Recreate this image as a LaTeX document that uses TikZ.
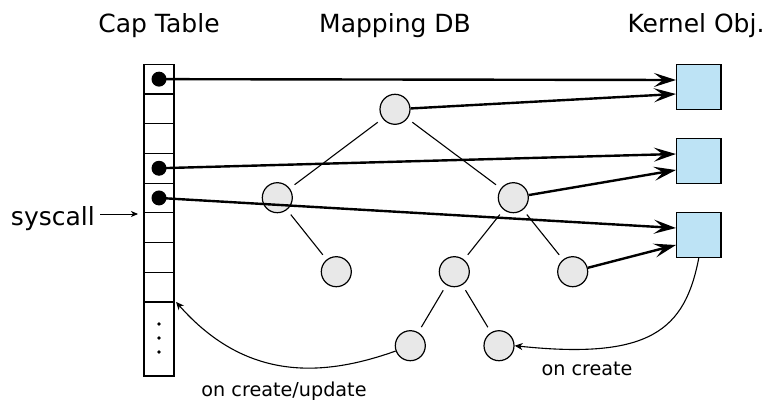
\documentclass[tikz,border=0pt]{standalone}
\usepackage{fontspec}
\setmainfont{DejaVu Sans}
\usetikzlibrary{arrows.meta}
\definecolor{kobj}{HTML}{BDE3F5}
\definecolor{mdb}{HTML}{E8E8E8}
\begin{document}
\begin{tikzpicture}[x=1pt,y=-1pt,
  title/.style={font=\fontsize{25}{30}\selectfont, inner sep=0pt, anchor=base},
  lbl/.style={font=\fontsize{19.2}{23}\selectfont, inner sep=0pt, anchor=base},
  cell/.style={draw, line width=1.2pt, minimum width=30pt, minimum height=29.7pt, inner sep=0pt, outer sep=0pt},
  bullet/.style={circle, fill=black, minimum size=15pt, inner sep=0pt},
  dbnode/.style={circle, draw, line width=1.2pt, fill=mdb, minimum size=30pt, inner sep=0pt},
  kobox/.style={draw, line width=1.2pt, fill=kobj, minimum size=44.5pt, inner sep=0pt},
  ptr/.style={line width=2.4pt, -{Stealth[length=22pt,width=14pt,inset=9pt]}},
  tedge/.style={line width=1.1pt, shorten <=6pt, shorten >=6pt},
  thin/.style={line width=1.1pt, -{Stealth[length=8pt,width=7pt,inset=2.5pt]}}
]
\useasboundingbox (0,0) rectangle (775,401);

% titles
\node[title] (t1) at (159,32.5) {Cap Table};
\node[title] (t2) at (395,32.5) {Mapping DB};
\node[title] (t3) at (696,32.5) {Kernel Obj.};

% cap table
\foreach \i in {1,...,8} {
  \node[cell] (c\i) at (159,{64.3+29.7*(\i-0.5)}) {};
}
\node[cell, minimum height=74pt] (c9) at (159,339) {};
\foreach \yy in {324,338,352} {
  \fill (159,\yy) circle (1.8pt);
}

% syscall
\node[title, anchor=base east] (sys) at (95,225) {syscall};
\coordinate (sa) at (100,214);
\draw[line width=0.9pt, -{Stealth[length=7pt,width=6pt,inset=2pt]}] (sa) -- ([xshift=-6pt]c6.west |- sa);

% bullets
\node[bullet] (b1) at (c1.center) {};
\node[bullet] (b4) at (c4.center) {};
\node[bullet] (b5) at (c5.center) {};

% kernel objects
\node[kobox] (k1) at (698.8,87) {};
\node[kobox] (k2) at (698.8,161) {};
\node[kobox] (k3) at (698.8,235) {};

% mapping db tree
\node[dbnode] (r) at (395,109.3) {};
\node[dbnode] (l) at (277.3,197.7) {};
\node[dbnode] (rt) at (513.3,197.7) {};
\node[dbnode] (ll) at (336.3,271.7) {};
\node[dbnode] (rl) at (454.3,271.7) {};
\node[dbnode] (rr) at (572.7,271.7) {};
\node[dbnode] (bl) at (410.3,345.7) {};
\node[dbnode] (br) at (499,345.7) {};

\draw[tedge] (r) -- (l);
\draw[tedge] (r) -- (rt);
\draw[tedge] (l) -- (ll);
\draw[tedge] (rt) -- (rl);
\draw[tedge] (rt) -- (rr);
\draw[tedge] (rl) -- (bl);
\draw[tedge] (rl) -- (br);

% pointer arrows
\draw[ptr] (b1.center) -- ([yshift=7pt]k1.west);
\draw[ptr] (r) -- ([yshift=-7pt]k1.west);
\draw[ptr] (b4.center) -- ([yshift=7pt]k2.west);
\draw[ptr] (rt) -- ([yshift=-9pt]k2.west);
\draw[ptr] (b5.center) -- ([yshift=7pt]k3.west);
\draw[ptr] (rr) -- ([yshift=-10pt]k3.west);

% curved arrows
\coordinate (ct) at ([xshift=2pt]c8.south east);
\draw[thin] (bl.200) .. controls (320,378) and (245,380) .. (ct);
\draw[thin] (k3.south) .. controls (685,330) and (650,360) .. (br.east);

\node[lbl] (u1) at (284,396.5) {on create/update};
\node[lbl] (u2) at (587,375) {on create};
\end{tikzpicture}
\end{document}
